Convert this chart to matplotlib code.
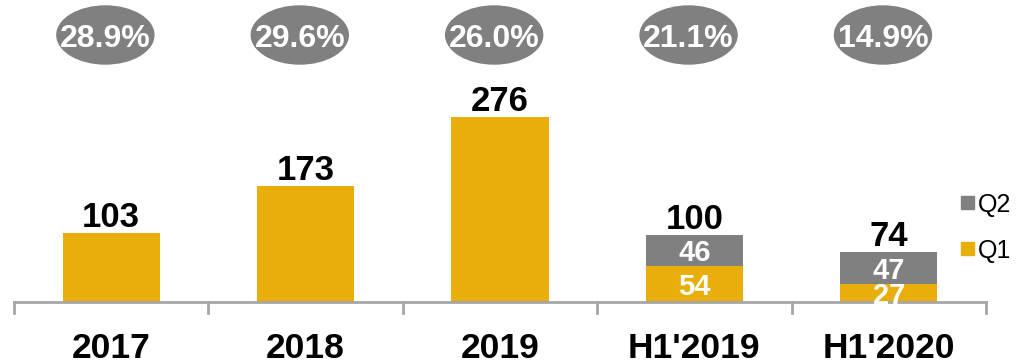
import matplotlib
matplotlib.use("Agg")
import matplotlib.pyplot as plt
from matplotlib.patches import Ellipse, Rectangle

# Data
categories = ["2017", "2018", "2019", "H1'2019", "H1'2020"]
q1_values = [103, 173, 276, 54, 27]
q2_values = [0, 0, 0, 46, 47]
totals = [103, 173, 276, 100, 74]
margins = ["28.9%", "29.6%", "26.0%", "21.1%", "14.9%"]
stacked = [False, False, False, True, True]

GOLD = "#E8AE0C"
GREY = "#808080"
AXIS = "#A6A6A6"

plt.rcParams["font.family"] = ["Liberation Sans", "DejaVu Sans"]

W, H, DPI = 1017, 362, 100
fig = plt.figure(figsize=(W / DPI, H / DPI), dpi=DPI)

# axes: x from 14px to 986px, baseline at 302px from top, 0.67 px per unit
left_px, right_px, base_px = 14, 986, 302
px_per_unit = 0.67
ax = fig.add_axes([left_px / W, (H - base_px) / H, (right_px - left_px) / W, base_px / H])
ax.set_xlim(-0.5, len(categories) - 0.5)
ax.set_ylim(0, base_px / px_per_unit)
ax.axis("off")

x = list(range(len(categories)))
bar_w = 0.5
ax.bar(x, q1_values, width=bar_w, color=GOLD, zorder=2)
ax.bar(x, q2_values, width=bar_w, bottom=q1_values, color=GREY, zorder=2)

# baseline and category separators
ax.plot([-0.5, len(categories) - 0.5], [0, 0], color=AXIS, lw=2, clip_on=False, zorder=3)
sep_len = 11 / px_per_unit
for b in [i - 0.5 for i in range(len(categories) + 1)]:
    ax.plot([b, b], [0, -sep_len], color=AXIS, lw=2, clip_on=False, zorder=3)

pt = 0.72  # points per pixel at 100 dpi

for i, cat in enumerate(categories):
    # total label above bar
    ax.annotate(str(totals[i]), xy=(i, totals[i]), xytext=(0, 6 * pt),
                textcoords="offset points", ha="center", va="baseline",
                fontsize=25, fontweight="bold", color="black")
    # category label below axis
    ax.annotate(cat, xy=(i, 0), xytext=(0, -56 * pt), textcoords="offset points",
                ha="center", va="baseline", fontsize=25.5, fontweight="bold",
                color="black", annotation_clip=False)
    # segment labels for stacked bars
    if stacked[i]:
        ax.text(i, q1_values[i] / 2, str(q1_values[i]), ha="center", va="center_baseline",
                fontsize=21, fontweight="bold", color="white", zorder=4)
        ax.text(i, q1_values[i] + q2_values[i] / 2, str(q2_values[i]), ha="center",
                va="center_baseline", fontsize=21, fontweight="bold", color="white", zorder=4)
    # margin ellipse on top
    ex = i - 0.03
    ey = (base_px - 35) / px_per_unit
    ax.add_patch(Ellipse((ex, ey), width=97 / 194.4, height=58 / px_per_unit,
                         color=GREY, clip_on=False, zorder=2))
    ax.text(ex, (base_px - 47) / px_per_unit, margins[i], ha="center", va="baseline",
            fontsize=23, fontweight="bold", color="white", zorder=3, clip_on=False)

# legend
for label, color, top in [("Q2", GREY, 196), ("Q1", GOLD, 242)]:
    fig.patches.append(Rectangle((961 / W, (H - top - 13) / H), 13 / W, 13 / H,
                                 transform=fig.transFigure, color=color, figure=fig))
    fig.text(978 / W, (H - top - 6.5) / H, label, ha="left", va="center_baseline",
             fontsize=18, color="black")

fig.savefig("out.png", dpi=DPI)
